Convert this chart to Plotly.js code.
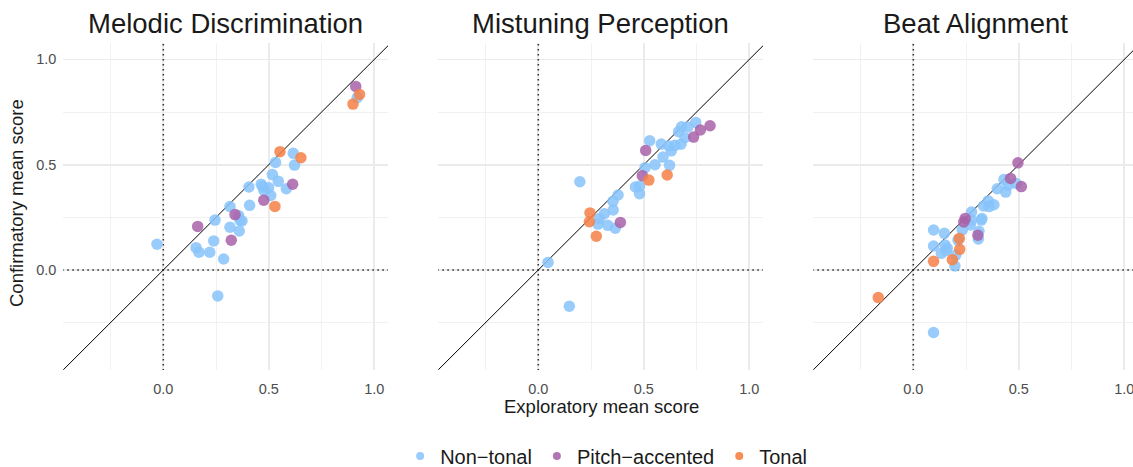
<!DOCTYPE html>
<html>
<head>
<meta charset="utf-8">
<script src="https://cdn.plot.ly/plotly-3.0.1.min.js"></script>
<style>html,body{margin:0;padding:0;background:#fff;overflow:hidden}#chart{width:1133px;height:467px}</style>
</head>
<body>
<div id="chart"></div>
<script>
// Panel titles
const panels = ["Melodic Discrimination", "Mistuning Perception", "Beat Alignment"];
const groups = ["Non\u2212tonal", "Pitch\u2212accented", "Tonal"];
const tickLabels = ["0.0", "0.5", "1.0"];
const tickValues = [0, 0.5, 1];
const refZero = [0, 0];        // reference lines at 0
const refSpan = [-1, 2];       // span of reference lines
const identity = [-1, 2];      // y = x line

// Melodic Discrimination
const md_nontonal_x = [-0.030,0.155,0.169,0.220,0.239,0.245,0.286,0.258,0.316,0.316,0.357,0.363,0.373,0.360,0.406,0.409,0.464,0.471,0.477,0.499,0.509,0.517,0.532,0.545,0.583,0.616,0.622,0.919];
const md_nontonal_y = [0.122,0.106,0.084,0.084,0.138,0.237,0.052,-0.123,0.301,0.203,0.258,0.237,0.233,0.185,0.394,0.307,0.407,0.396,0.378,0.391,0.354,0.453,0.511,0.421,0.386,0.554,0.498,0.818];
const md_pitch_x = [0.163,0.322,0.340,0.476,0.613,0.912];
const md_pitch_y = [0.207,0.141,0.263,0.331,0.407,0.872];
const md_tonal_x = [0.553,0.652,0.529,0.899,0.930];
const md_tonal_y = [0.562,0.533,0.302,0.788,0.834];

// Mistuning Perception
const mp_nontonal_x = [0.046,0.147,0.197,0.283,0.289,0.313,0.329,0.365,0.355,0.354,0.378,0.460,0.480,0.480,0.506,0.528,0.553,0.583,0.591,0.622,0.619,0.630,0.648,0.676,0.665,0.679,0.695,0.709,0.746];
const mp_nontonal_y = [0.036,-0.172,0.419,0.218,0.245,0.267,0.212,0.198,0.285,0.326,0.356,0.394,0.399,0.362,0.486,0.614,0.500,0.598,0.536,0.497,0.589,0.566,0.592,0.597,0.657,0.680,0.628,0.679,0.701];
const mp_pitch_x = [0.389,0.493,0.509,0.736,0.768,0.814];
const mp_pitch_y = [0.226,0.448,0.568,0.631,0.665,0.685];
const mp_tonal_x = [0.245,0.242,0.275,0.524,0.611];
const mp_tonal_y = [0.271,0.229,0.160,0.427,0.451];

// Beat Alignment
const ba_nontonal_x = [0.096,0.096,0.096,0.147,0.133,0.150,0.161,0.155,0.197,0.201,0.212,0.232,0.270,0.275,0.276,0.308,0.311,0.322,0.325,0.333,0.355,0.359,0.382,0.398,0.438,0.430,0.449,0.487];
const ba_nontonal_y = [-0.297,0.190,0.114,0.174,0.079,0.119,0.103,0.092,0.019,0.070,0.142,0.190,0.214,0.237,0.275,0.147,0.184,0.237,0.244,0.304,0.328,0.301,0.310,0.386,0.370,0.430,0.403,0.411];
const ba_pitch_x = [0.246,0.239,0.306,0.461,0.496,0.512];
const ba_pitch_y = [0.245,0.228,0.165,0.435,0.509,0.396];
const ba_tonal_x = [-0.166,0.096,0.185,0.220,0.218];
const ba_tonal_y = [-0.131,0.041,0.049,0.098,0.150];

const colors = ["rgba(135,195,250,0.85)", "rgba(168,98,168,0.85)", "rgba(246,128,70,0.85)"];
const solid = ["#99ccff", "#b374b3", "#f78c55"];

const data = [
  [[md_nontonal_x, md_nontonal_y],[md_pitch_x, md_pitch_y],[md_tonal_x, md_tonal_y]],
  [[mp_nontonal_x, mp_nontonal_y],[mp_pitch_x, mp_pitch_y],[mp_tonal_x, mp_tonal_y]],
  [[ba_nontonal_x, ba_nontonal_y],[ba_pitch_x, ba_pitch_y],[ba_tonal_x, ba_tonal_y]]
];

const W = 1133, H = 467;
const pxPerUnit = 211;
const panelLeft = [63.3, 438.3, 813.3];
const panelTop = 43, panelBottom = 370;
const traces = [];
const layout = {
  width: W, height: H,
  margin: {l:0, r:0, t:0, b:0, autoexpand: false},
  paper_bgcolor: "#fff", plot_bgcolor: "#fff",
  font: {family: "Liberation Sans, Arial, sans-serif", color: "#1a1a1a"},
  showlegend: true,
  legend: {orientation: "h", x: 0.535, xanchor: "center", y: 1 - 456/H, yanchor: "middle",
           font: {size: 20, color: "#1a1a1a"}, itemwidth: 30, tracegroupgap: 0},
  annotations: []
};

const dotLine = {color: "#333", width: 1.6, dash: "1.6px,3.4px"};

for (let p = 0; p < 3; p++) {
  const xa = p === 0 ? "x" : "x" + (p + 1);
  const ya = p === 0 ? "y" : "y" + (p + 1);
  const right = Math.min(panelLeft[p] + 324.7, W);
  const x0 = panelLeft[p] + 100; // data 0 location
  const xr = [(panelLeft[p] - x0) / pxPerUnit, (right - x0) / pxPerUnit];
  const axKey = p === 0 ? "xaxis" : "xaxis" + (p + 1);
  const ayKey = p === 0 ? "yaxis" : "yaxis" + (p + 1);
  layout[axKey] = {
    domain: [panelLeft[p] / W, right / W], anchor: ya, range: xr,
    tickvals: tickValues, ticktext: tickLabels, showline: false, zeroline: false,
    gridcolor: "#ebebeb", gridwidth: 1.7, ticklabeloverflow: "allow", automargin: false,
    minor: {tickvals: [-0.25, 0.25, 0.75], showgrid: true, gridcolor: "#f0f0f0", gridwidth: 0.9},
    tickfont: {size: 14.5, color: "#4d4d4d"}, ticks: "", ticklabelstandoff: 8, fixedrange: true
  };
  layout[ayKey] = {
    domain: [1 - panelBottom / H, 1 - panelTop / H], anchor: xa, range: [-0.475, 1.078],
    tickvals: tickValues, ticktext: tickLabels, showticklabels: p === 0, showline: false, zeroline: false,
    gridcolor: "#ebebeb", gridwidth: 1.7, ticklabeloverflow: "allow", automargin: false,
    minor: {tickvals: [-0.25, 0.25, 0.75], showgrid: true, gridcolor: "#f0f0f0", gridwidth: 0.9},
    tickfont: {size: 14.5, color: "#4d4d4d"}, ticks: "", ticklabelstandoff: 6, fixedrange: true
  };
  // dotted reference lines at zero
  traces.push({x: refZero, y: refSpan, xaxis: xa, yaxis: ya, mode: "lines", type: "scatter",
    line: dotLine, showlegend: false, hoverinfo: "skip"});
  traces.push({x: refSpan, y: refZero, xaxis: xa, yaxis: ya, mode: "lines", type: "scatter",
    line: dotLine, showlegend: false, hoverinfo: "skip"});
  // identity line
  traces.push({x: identity, y: identity, xaxis: xa, yaxis: ya, mode: "lines", type: "scatter",
    line: {color: "#000", width: 1}, showlegend: false, hoverinfo: "skip"});
  for (let g = 0; g < 3; g++) {
    traces.push({x: data[p][g][0], y: data[p][g][1], xaxis: xa, yaxis: ya, mode: "markers",
      type: "scatter", name: groups[g], legendgroup: groups[g], showlegend: false,
      marker: {size: 11.5, color: colors[g], line: {width: 0}}});
  }
  layout.annotations.push({text: panels[p], xref: "paper", yref: "paper",
    x: (panelLeft[p] + 162.4) / W, y: 1 - 24 / H, xanchor: "center", yanchor: "middle",
    showarrow: false, font: {size: 27.5, color: "#1a1a1a"}});
}
// legend entries
for (let g = 0; g < 3; g++) {
  traces.push({x: [null], y: [null], xaxis: "x", yaxis: "y", mode: "markers", type: "scatter",
    name: groups[g], legendgroup: groups[g], showlegend: true,
    marker: {size: 8, color: solid[g]}});
}
layout.annotations.push({text: "Exploratory mean score", xref: "paper", yref: "paper",
  x: 601 / W, y: 1 - 406 / H, xanchor: "center", yanchor: "middle", showarrow: false,
  font: {size: 18.5, color: "#1a1a1a"}});
layout.annotations.push({text: "Confirmatory mean score", xref: "paper", yref: "paper",
  x: 17 / W, y: 1 - 203 / H, xanchor: "center", yanchor: "middle", showarrow: false, textangle: -90,
  font: {size: 18.5, color: "#1a1a1a"}});

Plotly.newPlot("chart", traces, layout, {displayModeBar: false, staticPlot: true});
</script>
</body>
</html>
